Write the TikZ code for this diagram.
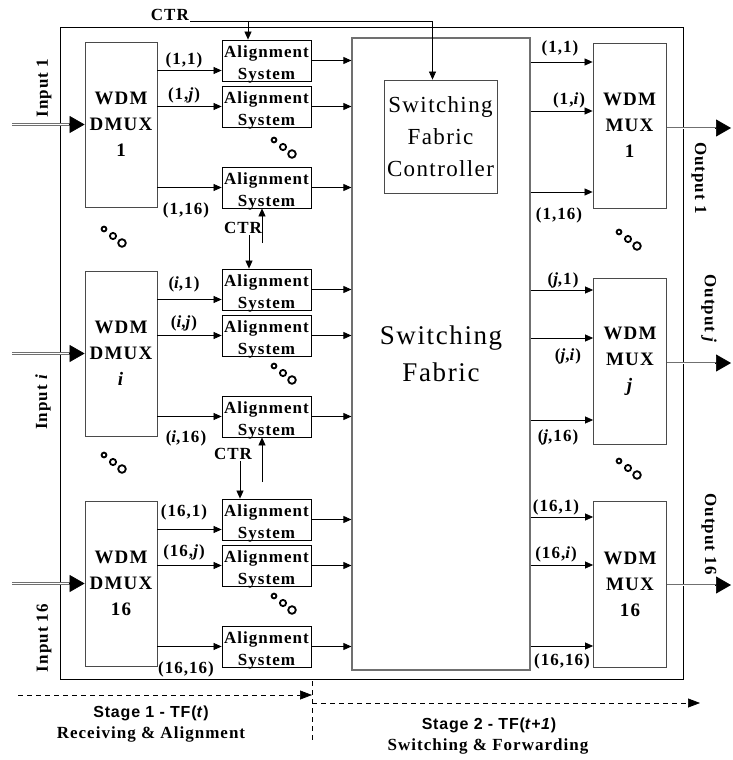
\documentclass[tikz,border=0pt]{standalone}
\usepackage{fontspec}
\setmainfont{Liberation Serif}[LetterSpace=6]
\newfontfamily\stagefont{Liberation Sans}[LetterSpace=5]
\usetikzlibrary{arrows.meta,calc}
\definecolor{boxgray}{HTML}{4A4A4A}
\definecolor{fabgray}{HTML}{707070}
\definecolor{linegray}{HTML}{707070}
\newcommand{\astext}{\rule{0pt}{15pt}Alignment\\\smash{System}}

\begin{document}
\begin{tikzpicture}[x=1pt,y=-1pt,
  mux/.style={draw=boxgray, line width=0.8pt, minimum width=72pt, minimum height=165pt,
              inner sep=0pt, align=center, font=\fontsize{19}{26}\selectfont\bfseries},
  asys/.style={draw=black, line width=0.8pt, minimum width=89pt, minimum height=41pt,
               inner sep=0pt, align=center, font=\fontsize{17}{22}\selectfont\bfseries},
  lbl/.style={inner sep=0pt, font=\fontsize{17}{20}\selectfont\bfseries},
  ctr/.style={inner sep=1pt, font=\fontsize{17}{20}\selectfont\bfseries},
  arr/.style={-{Triangle[length=8pt,width=7pt]}, line width=0.7pt},
  dbl/.style={draw=linegray, line width=0.8pt, double=white, double distance=1pt},
  bigtip/.style={-{Triangle[length=15pt,width=17pt]}, line width=0.7pt},
  dsh/.style={dash pattern=on 5pt off 4pt, line width=0.7pt},
  etc/.pic={\foreach \k/\r in {0/2.4,1/3.1,2/3.8} \draw[line width=1.8pt] (\k*9,\k*7) circle[radius=\r pt];}
]
\useasboundingbox (0,0) rectangle (732,760);

% outer frame
\draw[line width=0.8pt] (60,27) rectangle (683,679);

% switching fabric and its controller
\node[draw=fabgray, line width=1.2pt, minimum width=178pt, minimum height=632pt, inner sep=0pt,
      align=center, font=\fontsize{27}{37}\selectfont] (fab) at (441,354) {Switching\\Fabric};
\node[draw=boxgray, line width=0.8pt, minimum width=113pt, minimum height=113pt, inner sep=0pt,
      align=center, font=\fontsize{23}{32}\selectfont] (ctl) at (440.5,136.5) {Switching\\Fabric\\Controller};

% input side: demultiplexers and alignment systems
\coordinate (inx) at (12,0);
\foreach \g/\ty/\n/\ya/\yb/\yc in {a/42/1/60/95/210, b/271/\textit{i}/284/323/438, c/501/16/512/552/669}{
  \node[mux] (d\g) at (121,\ty+82.5) {WDM\\DMUX\\\n};
  \node[asys] (\g1) at (266.5,\ty+18.5) {\astext};
  \node[asys] (\g2) at (266.5,\ty+64.5) {\astext};
  \node[asys] (\g3) at (266.5,\ty+145.5) {\astext};
  \draw[arr] ([yshift=-10pt]\g1.west -| d\g.east) -- ([yshift=-10pt]\g1.west);
  \draw[arr] (\g2.west -| d\g.east) -- (\g2.west);
  \draw[arr] (\g3.west -| d\g.east) -- (\g3.west);
  \foreach \k in {1,2,3} \draw[arr] (\g\k.east) -- (\g\k.east -| fab.west);
  \node[lbl] (l\g1) at (184,\ya) {(\n,1)};
  \node[lbl] (l\g2) at (184,\yb) {(\n,\textit{j})};
  \node[lbl] (l\g3) at (186,\yc) {(\n,16)};
  \draw[dbl, shorten >=13pt] (inx |- d\g.west) -- (d\g.west);
  \draw[bigtip] ([xshift=-16pt]d\g.west) -- (d\g.west);
}
\node[lbl, rotate=90] (ina) at (44,88) {Input 1};
\node[lbl, rotate=90] (inb) at (43,402) {Input \textit{i}};
\node[lbl, rotate=90] (inc) at (44,638) {Input 16};

% control signals
\node[ctr, anchor=base east] (ctra) at (190,21) {CTR};
\draw[arr] (ctra.base east) -| ([xshift=-8pt]ctl.north);
\coordinate (tapa) at (248,21);
\draw[arr] (tapa) -- (tapa |- a1.north);
\node[ctr] (ctrb) at (243,228) {CTR};
\draw[arr] ([xshift=6pt]ctrb.south) -- ([xshift=6pt]ctrb.south |- b1.north);
\coordinate (upb) at (262,243);
\draw[arr] (upb) -- (upb |- a3.south);
\node[ctr] (ctrc) at (233,454) {CTR};
\draw[arr] ([xshift=7pt]ctrc.south) -- ([xshift=7pt]ctrc.south |- c1.north);
\coordinate (upc) at (262,482);
\draw[arr] (upc) -- (upc |- b3.south);

% output side: multiplexers
\node[mux, minimum width=73pt] (m1) at (629.5,125.5) {WDM\\MUX\\1};
\node[mux, minimum width=73pt, minimum height=166pt] (m2) at (630,361) {WDM\\MUX\\\textit{j}};
\node[mux, minimum width=73pt, minimum height=166pt] (m3) at (630,584) {WDM\\MUX\\16};
\foreach \m/\sa/\sb/\sc in {m1/63.5/14.5/-66.5, m2/71/23/-59, m3/67/19/-62}
  \foreach \dy in {\sa,\sb,\sc}
    \draw[arr] ([yshift=\dy pt]\m.west -| fab.east) -- ([yshift=\dy pt]\m.west);
\node[lbl] (r11) at (560,48) {(1,1)};
\node[lbl] (r12) at (569,100) {(1,\textit{i})};
\node[lbl] (r13) at (559,215) {(1,16)};
\node[lbl] (r21) at (563,280) {(\textit{j},1)};
\node[lbl] (r22) at (568,356) {(\textit{j},\textit{i})};
\node[lbl] (r23) at (558,437) {(\textit{j},16)};
\node[lbl] (r31) at (556,507) {(16,1)};
\node[lbl] (r32) at (556,554) {(16,\textit{i})};
\node[lbl] (r33) at (562,661) {(16,16)};

\coordinate (srca) at (666.5,128);
\coordinate (srcb) at (667,363);
\coordinate (srcc) at (667,585);
\coordinate (outa) at (731,128);
\coordinate (outb) at (731,363);
\coordinate (outc) at (731,585);
\draw[dbl, shorten >=13pt] (srca) -- (outa);
\draw[dbl, shorten >=13pt] (srcb) -- (outb);
\draw[dbl, shorten >=13pt] (srcc) -- (outc);
\draw[bigtip] ([xshift=-16pt]outa) -- (outa);
\draw[bigtip] ([xshift=-16pt]outb) -- (outb);
\draw[bigtip] ([xshift=-16pt]outc) -- (outc);
\node[lbl, rotate=-90] (oa) at (699,178) {Output 1};
\node[lbl, rotate=-90] (ob) at (709,309) {Output \textit{j}};
\node[lbl, rotate=-90] (oc) at (709,534) {Output 16};

% more of the same
\pic at (274,140) {etc};
\pic at (274,366) {etc};
\pic at (274,596) {etc};
\pic at (104,229) {etc};
\pic at (104,455) {etc};
\pic at (619,232) {etc};
\pic at (619,461) {etc};

% stages
\coordinate (vt) at (312,681);
\coordinate (vb) at (312,742);
\draw[dsh] (vt) -- (vb);
\coordinate (s1a) at (18,695);
\coordinate (s1b) at (312,695);
\draw[dsh, -{Triangle[length=12pt,width=9pt]}] (s1a) -- (s1b);
\coordinate (s2a) at (312,703);
\coordinate (s2b) at (700,703);
\draw[dsh, -{Triangle[length=12pt,width=9pt]}] (s2a) -- (s2b);
\node[font=\stagefont\fontsize{16}{18}\selectfont\bfseries] (st1) at (151,713) {Stage 1 - TF(\textit{t})};
\node[font=\fontsize{17}{18}\selectfont\bfseries] (st1b) at (151,734) {Receiving \& Alignment};
\node[font=\stagefont\fontsize{16}{18}\selectfont\bfseries] (st2) at (489,725) {Stage 2 - TF(\textit{t+1})};
\node[font=\fontsize{17}{18}\selectfont\bfseries] (st2b) at (488,746) {Switching \& Forwarding};
\end{tikzpicture}
\end{document}
